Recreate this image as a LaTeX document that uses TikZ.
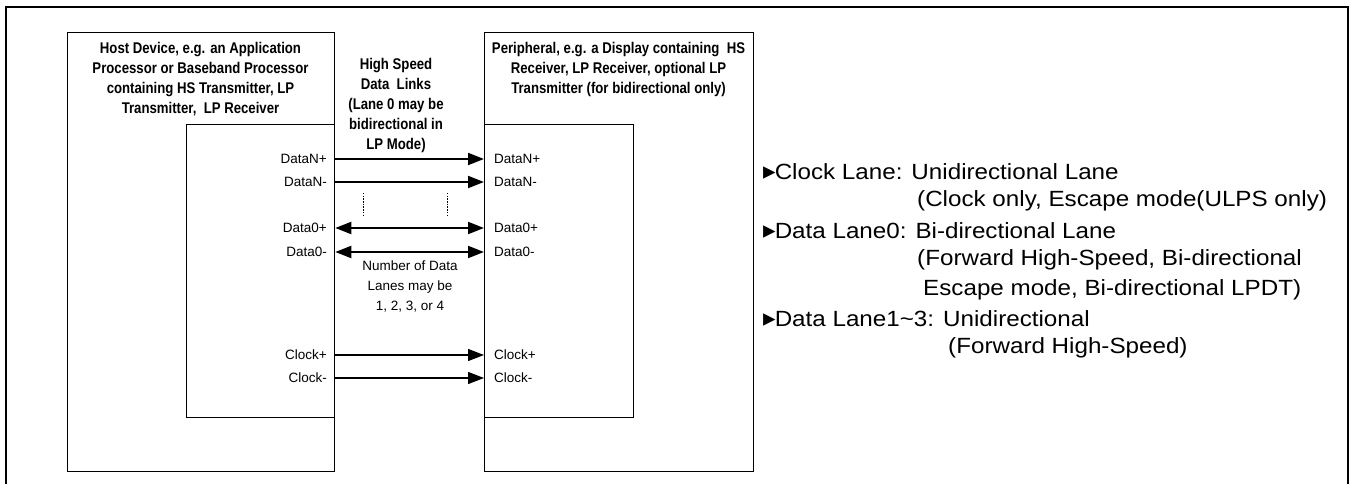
\documentclass[tikz,border=0pt]{standalone}
\usepackage{fontspec}
\setmainfont{Liberation Sans}
\newfontfamily\headfont[FakeStretch=0.85]{Liberation Sans}
\newfontfamily\notefont[FakeStretch=1.1]{Liberation Sans}
\newfontfamily\symfont{DejaVu Sans}
\usetikzlibrary{arrows.meta,positioning}

\newcommand{\lanebullet}{{\symfont\fontsize{25bp}{25bp}\selectfont ▸}\hspace{-1bp}}

\tikzset{
  devbox/.style={draw, line width=1.3bp, anchor=north west, inner sep=0pt},
  headtext/.style={font=\headfont\bfseries\fontsize{15.5bp}{20bp}\selectfont,
    align=center, inner sep=0pt},
  pintext/.style={font=\fontsize{13.5bp}{20bp}\selectfont, inner sep=0pt},
  notetext/.style={font=\notefont\fontsize{22bp}{29bp}\selectfont, anchor=west, inner sep=0pt},
  lane/.style={line width=2bp, -{Triangle[length=16bp,width=12bp]}},
  bilane/.style={line width=2bp, {Triangle[length=16bp,width=12bp]}-{Triangle[length=16bp,width=12bp]}},
  clklane/.style={line width=1.3bp, -{Triangle[length=16bp,width=12bp]}},
  gapline/.style={line width=1bp, dash pattern=on 1.5bp off 1.2bp}
}

\begin{document}
\begin{tikzpicture}[x=1bp, y=-1bp]
  \useasboundingbox (0,0) rectangle (1353,484);
  % frame round the figure
  \draw[line width=2.3bp] (6,484) |- (1348,7) -- (1348,484);

  % host side
  \node[devbox, minimum width=267bp, minimum height=439bp] (host) at (67,32) {};
  \node[devbox, minimum width=148bp, minimum height=293bp] (hostin) at (186,124) {};
  \node[headtext] (hosttitle) at (200.5,79)
    {Host Device, e.g. an Application\\Processor or Baseband Processor\\containing HS Transmitter, LP\\Transmitter,\ \ LP Receiver};

  % peripheral side
  \node[devbox, minimum width=269bp, minimum height=439bp] (per) at (484,32) {};
  \node[devbox, minimum width=149bp, minimum height=293bp] (perin) at (484,124) {};
  \node[headtext] (pertitle) at (618.5,69)
    {Peripheral, e.g. a Display containing\ \ HS\\Receiver, LP Receiver, optional LP\\Transmitter (for bidirectional only)};

  % links between them
  \node[headtext] (links) at (396,105)
    {High Speed\\Data\ \ Links\\(Lane 0 may be\\bidirectional in\\LP Mode)};
  \node[pintext, align=center] (nlanes) at (410,286)
    {Number of Data\\Lanes may be\\1, 2, 3, or 4};

  \node[pintext, anchor=east] (hdnp) at (327,159) {DataN+};
  \node[pintext, anchor=east] (hdnm) at (327,182) {DataN-};
  \node[pintext, anchor=east] (hd0p) at (327,228) {Data0+};
  \node[pintext, anchor=east] (hd0m) at (327,252) {Data0-};
  \node[pintext, anchor=east] (hckp) at (327,355) {Clock+};
  \node[pintext, anchor=east] (hckm) at (327,378) {Clock-};

  \node[pintext, anchor=west] (pdnp) at (494,159) {DataN+};
  \node[pintext, anchor=west] (pdnm) at (494,182) {DataN-};
  \node[pintext, anchor=west] (pd0p) at (494,228) {Data0+};
  \node[pintext, anchor=west] (pd0m) at (494,252) {Data0-};
  \node[pintext, anchor=west] (pckp) at (494,355) {Clock+};
  \node[pintext, anchor=west] (pckm) at (494,378) {Clock-};

  \draw[lane] (hostin.east |- hdnp) -- (perin.west |- pdnp);
  \draw[lane] (hostin.east |- hdnm) -- (perin.west |- pdnm);
  \draw[bilane] (hostin.east |- hd0p) -- (perin.west |- pd0p);
  \draw[bilane] (hostin.east |- hd0m) -- (perin.west |- pd0m);
  \draw[clklane] (hostin.east |- hckp) -- (perin.west |- pckp);
  \draw[clklane] (hostin.east |- hckm) -- (perin.west |- pckm);

  \draw[gapline] (363,193) -- (363,217);
  \draw[gapline] (447,193) -- (447,217);

  % lane notes
  \node[notetext] (clk) at (763,172) {\lanebullet Clock Lane: Unidirectional Lane};
  \node[notetext] (clkb) at (917,201) {(Clock only, Escape mode(ULPS only)};
  \node[notetext] (dl0) at (763,231) {\lanebullet Data Lane0: Bi-directional Lane};
  \node[notetext] (dl0b) at (917,260) {(Forward High-Speed, Bi-directional};
  \node[notetext] (dl0c) at (923,290) {Escape mode, Bi-directional LPDT)};
  \node[notetext] (dl13) at (763,319) {\lanebullet Data Lane1\textasciitilde 3: Unidirectional};
  \node[notetext] (dl13b) at (948,348) {(Forward High-Speed)};
\end{tikzpicture}
\end{document}
